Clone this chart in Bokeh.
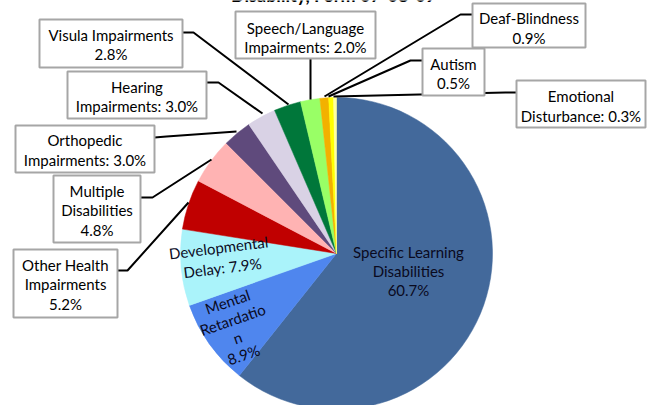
from bokeh.plotting import figure
from bokeh.models import Range1d, ColumnDataSource
from bokeh.core.properties import value
from bokeh.embed import file_html
from bokeh.resources import INLINE
import math

# ---- data ----
categories = ["Specific Learning Disabilities", "Mental Retardation", "Developmental Delay",
              "Other Health Impairments", "Multiple Disabilities", "Orthopedic Impairments",
              "Hearing Impairments", "Visula Impairments", "Speech/Language Impairments",
              "Deaf-Blindness", "Autism", "Emotional Disturbance"]
values = [60.7, 8.9, 7.9, 5.2, 4.8, 3.0, 3.0, 2.8, 2.0, 0.9, 0.5, 0.3]
label_templates = [
    ["Specific Learning", "Disabilities", "{v}"],
    ["Mental", "Retardatio", "n", "{v}"],
    ["Developmental", "Delay: {v}"],
    ["Other Health", "Impairments", "{v}"],
    ["Multiple", "Disabilities", "{v}"],
    ["Orthopedic", "Impairments: {v}"],
    ["Hearing", "Impairments: {v}"],
    ["Visula Impairments", "{v}"],
    ["Speech/Language", "Impairments: {v}"],
    ["Deaf-Blindness", "{v}"],
    ["Autism", "{v}"],
    ["Emotional", "Disturbance: {v}"],
]
title_text = "Disability, Form 07-08-09"

# ---- styles / layout ----
colors = ["#43699B", "#4F86EE", "#AAF3FA", "#C00000", "#FFB3B3", "#5F4A7C",
          "#D9D2E5", "#00773A", "#99FF66", "#F2B100", "#FFFF00", "#FFFFA0"]
W, H = 653, 405
FONT = "Lato"
FS = "15px"

def Y(ry):
    return H - ry

p = figure(width=W, height=H, output_backend="svg", toolbar_location=None,
           x_range=Range1d(0, W), y_range=Range1d(0, H),
           min_border=0, outline_line_color=None)
p.axis.visible = False
p.grid.visible = False
p.background_fill_color = "white"
p.border_fill_color = "white"

# pie
cx, cy, r = 336, Y(253), 156
total = sum(values)
starts, ends = [], []
cum = 0.0
for v in values:
    starts.append(math.pi / 2 - 2 * math.pi * cum / total)
    cum += v
    ends.append(math.pi / 2 - 2 * math.pi * cum / total)
src = ColumnDataSource(dict(start=starts, end=ends, color=colors, name=categories))
p.wedge(x=cx, y=cy, radius=r, start_angle="start", end_angle="end", direction="clock",
        fill_color="color", line_color="color", line_width=0.5, source=src)

def lines_for(i):
    return [t.replace("{v}", f"{values[i]:.1f}%") for t in label_templates[i]]

# callout boxes: index -> (left, right, top, bottom) in reference pixels, line y's
boxes = {
    3: ((13, 117, 249, 317), [264, 283, 303]),
    4: ((53, 140, 175, 242), [190, 209, 229]),
    5: ((15, 154, 125, 172), [139, 159]),
    6: ((67, 206, 71, 118), [86, 105]),
    7: ((39, 182, 19, 67), [34, 53]),
    8: ((235, 375, 11, 58), [27, 46]),
    9: ((472, 585, 3, 47), [17, 37]),
    10: ((422, 484, 48, 95), [63, 82]),
    11: ((516, 645, 80, 127), [95, 115]),
}
connectors = {
    3: [(117, 270), (127, 270), (188, 202)],
    4: [(140, 197), (152, 197), (211, 159)],
    5: [(154, 137), (166, 136), (236, 131)],
    6: [(206, 82), (218, 82), (262, 113)],
    7: [(182, 32), (193, 32), (288, 104)],
    8: [(310, 58), (310, 99)],
    9: [(472, 14), (460, 14), (324, 96)],
    10: [(422, 60), (410, 60), (328, 96)],
    11: [(516, 92), (505, 92), (333, 96)],
}

xs = [[pt[0] for pt in connectors[k]] for k in connectors]
ys = [[Y(pt[1]) for pt in connectors[k]] for k in connectors]
p.multi_line(xs=xs, ys=ys, line_color="black", line_width=2)

lefts, rights, tops, bottoms = [], [], [], []
tx, ty, tt = [], [], []
for i, ((l, rr, t, b), lys) in boxes.items():
    lefts.append(l); rights.append(rr); tops.append(Y(t)); bottoms.append(Y(b))
    for s, ly in zip(lines_for(i), lys):
        tx.append((l + rr) / 2); ty.append(Y(ly)); tt.append(s)
p.quad(left=lefts, right=rights, top=tops, bottom=bottoms, fill_color="white",
       line_color="#A6A6A6", line_width=2)
p.text(x=tx, y=ty, text=tt, text_font=value(FONT), text_font_size=FS,
       text_align="center", text_baseline="middle", text_color="black")

inside = {
    0: ([(408, 251), (408, 270), (408, 289)], 0),
    2: ([(218, 247), (222, 267)], 7),
    1: ([(227, 301), (232, 319), (237, 337), (243, 354)], 19),
}
ix, iy, it, ia = [], [], [], []
for i, (pts, ang) in inside.items():
    for s, (px, py) in zip(lines_for(i), pts):
        ix.append(px); iy.append(Y(py)); it.append(s); ia.append(math.radians(ang))
p.text(x=ix, y=iy, text=it, angle=ia, text_font=value(FONT), text_font_size=FS,
       text_align="center", text_baseline="middle", text_color="#0A0A1E")

p.text(x=[333], y=[Y(-6)], text=[title_text], text_font=value(FONT), text_font_size="18px",
       text_font_style="bold", text_align="center", text_baseline="middle", text_color="black")

open("out.html", "w").write(file_html(p, INLINE))
